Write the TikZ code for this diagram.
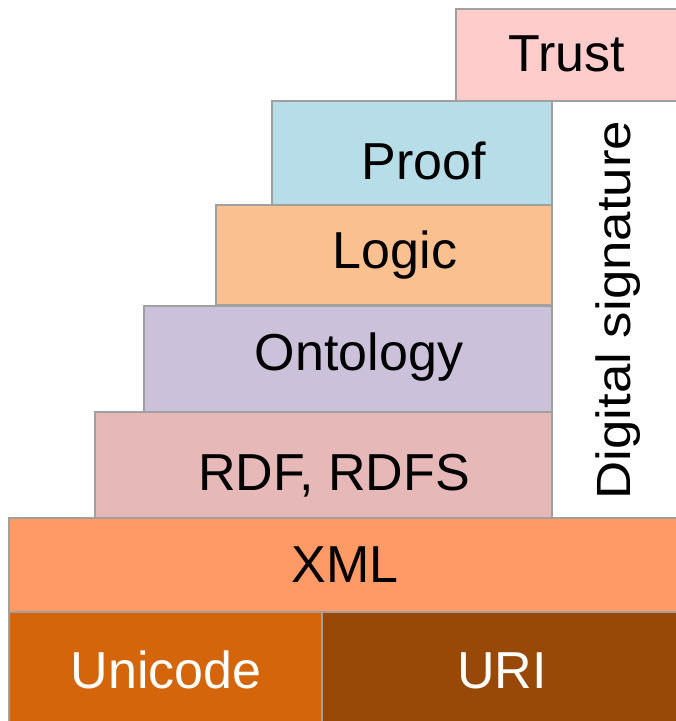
\documentclass[tikz,border=0pt]{standalone}
\usepackage{fontspec}
\setmainfont{Liberation Sans}
\definecolor{trustc}{HTML}{FFCCCC}
\definecolor{proofc}{HTML}{B7DDE8}
\definecolor{logicc}{HTML}{FAC090}
\definecolor{ontoc}{HTML}{CCC1DA}
\definecolor{rdfc}{HTML}{E6B9B8}
\definecolor{xmlc}{HTML}{FF9966}
\definecolor{unic}{HTML}{D4650A}
\definecolor{uric}{HTML}{984807}
\definecolor{edgec}{HTML}{A0A0A0}
\begin{document}
\begin{tikzpicture}[x=1pt,y=-1pt,
  layer/.style={draw=edgec, line width=1.3pt, inner sep=0pt, outer sep=0pt, anchor=north west},
  lbl/.style={font=\fontsize{52}{60}\selectfont, inner sep=0pt, anchor=base},
  wlbl/.style={lbl, text=white}]
\useasboundingbox (0,0) rectangle (676,721);
\clip (0,0) rectangle (676,721);
\node[layer, fill=trustc, minimum width=240pt, minimum height=92pt] (trust) at (456,9) {};
\node[layer, fill=proofc, minimum width=280pt, minimum height=104pt] (proof) at (272,101) {};
\node[layer, fill=logicc, minimum width=336pt, minimum height=100pt] (logic) at (216,205) {};
\node[layer, fill=ontoc, minimum width=408pt, minimum height=106pt] (onto) at (144,306) {};
\node[layer, fill=rdfc, minimum width=457pt, minimum height=106pt] (rdf) at (95,412) {};
\node[layer, fill=xmlc, minimum width=690pt, minimum height=94pt] (xml) at (9,518) {};
\node[layer, fill=unic, minimum width=313pt, minimum height=130pt] (uni) at (9,612) {};
\node[layer, fill=uric, minimum width=370pt, minimum height=130pt] (uri) at (322,612) {};
\node[lbl] (trustt) at (567,71) {Trust};
\node[lbl] (prooft) at (424,179) {Proof};
\node[lbl] (logict) at (395,268) {Logic};
\node[lbl] (ontot) at (359,370) {Ontology};
\node[lbl] (rdft) at (334,490) {RDF, RDFS};
\node[lbl] (xmlt) at (345,582) {XML};
\node[wlbl] (unit) at (166,688) {Unicode};
\node[wlbl] (urit) at (502,688) {URI};
\node[font=\fontsize{48}{56}\selectfont, inner sep=0pt, rotate=90, xscale=1.1, anchor=base] (dsig) at (630,310) {Digital signature};
\end{tikzpicture}
\end{document}
